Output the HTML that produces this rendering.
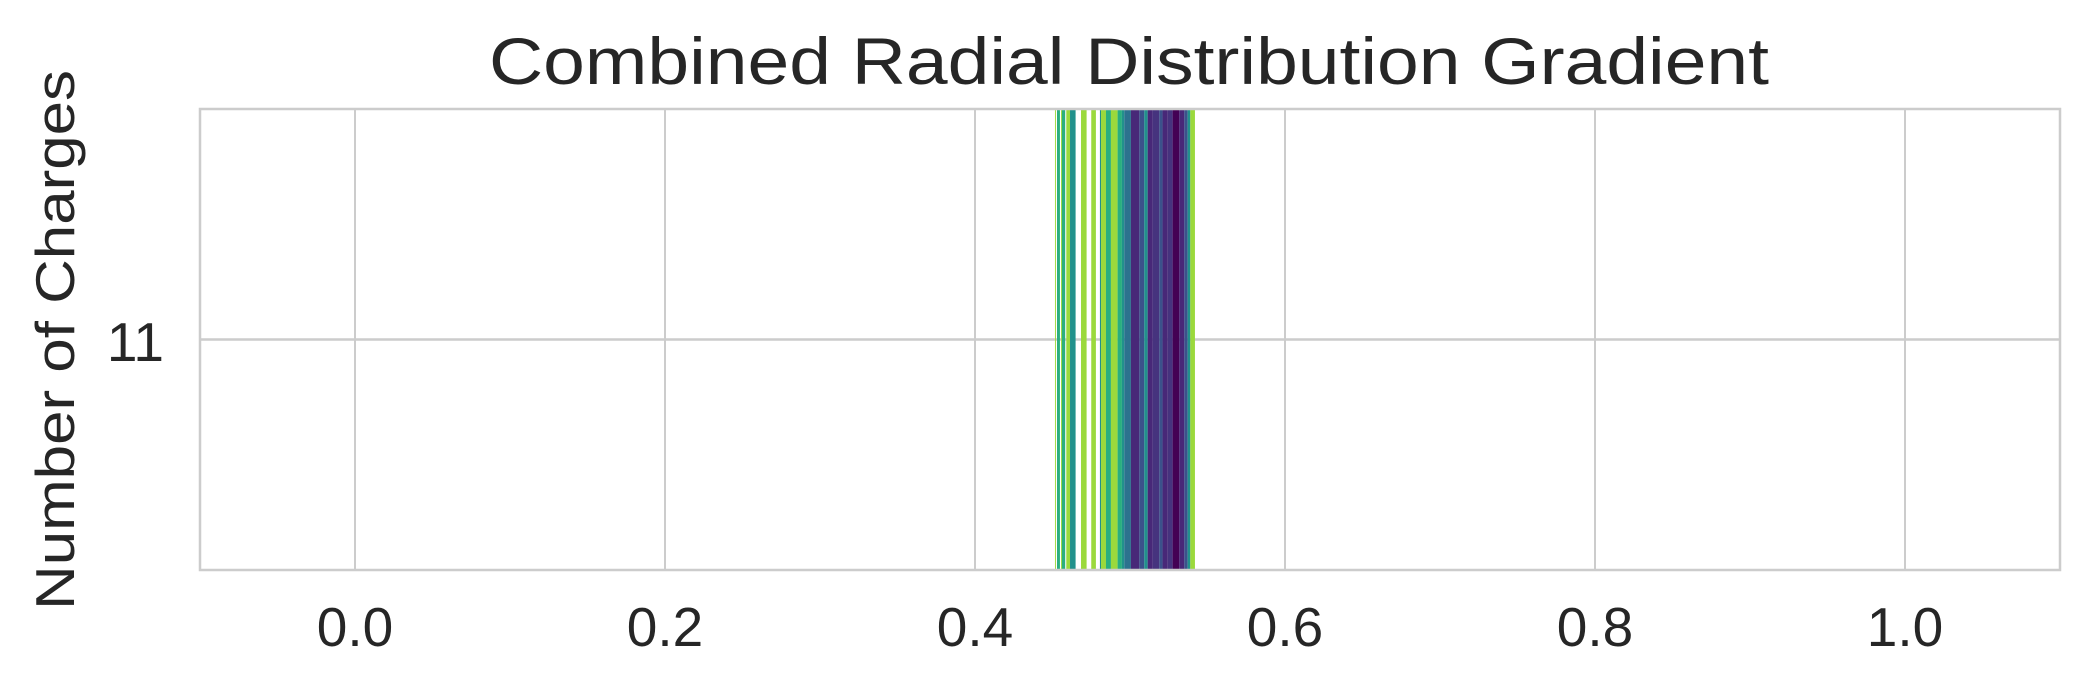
<!DOCTYPE html>
<html><head><meta charset="utf-8"><style>
html,body{margin:0;padding:0;background:#fff;}
svg{display:block;font-family:"Liberation Sans",Arial,sans-serif;}
</style></head><body>
<svg id="chart" width="2088" height="687" viewBox="0 0 2088 687">
<text x="1129" y="84" text-anchor="middle" font-size="66" fill="#262626" textLength="1280" lengthAdjust="spacingAndGlyphs">Combined Radial Distribution Gradient</text>
<g id="grid"></g>
<g id="bars"></g>
<rect x="200" y="109" width="1860" height="461" fill="none" stroke="#cccccc" stroke-width="2.5"/>
<g id="xticks"></g>
<text x="164" y="361" text-anchor="end" font-size="55" fill="#262626">11</text>
<text transform="translate(74,340) rotate(-90)" text-anchor="middle" font-size="55" fill="#262626" textLength="540" lengthAdjust="spacingAndGlyphs">Number of Charges</text>
</svg>
<script>
const xTicks = [0.0, 0.2, 0.4, 0.6, 0.8, 1.0];
const xTickLabels = ["0.0", "0.2", "0.4", "0.6", "0.8", "1.0"];
const binStarts = [0.4516,0.4529,0.4555,0.4561,0.4589,0.4613,0.4684,0.4750,0.4806,0.4813,0.4845,0.4877,0.4920,0.4948,0.4963,0.5006,0.5060,0.5092,0.5114,0.5146,0.5189,0.5210,0.5243,0.5275,0.5318,0.5350,0.5372,0.5389];
const binEnds   = [0.4522,0.4548,0.4561,0.4582,0.4613,0.4649,0.4720,0.4780,0.4813,0.4845,0.4877,0.4920,0.4948,0.4963,0.5006,0.5060,0.5092,0.5114,0.5146,0.5189,0.5210,0.5243,0.5275,0.5318,0.5350,0.5372,0.5389,0.5419];
const binColors = ["#9bd93c","#2aaf7f","#9bd93c","#2aaf7f","#9bd93c","#21918c","#9bd93c","#9bd93c","#21918c","#9bd93c","#2aaf7f","#9bd93c","#2aaf7f","#21918c","#2c728e","#482878","#3b528b","#21918c","#482878","#46337e","#3b528b","#482878","#46337e","#440154","#482878","#3b528b","#21918c","#9bd93c"];
const yTickValue = 11;

const NS = "http://www.w3.org/2000/svg";
const X0 = 200, X1 = 2060, Y0 = 109, Y1 = 570;
const xMin = -0.1, xMax = 1.1;
function xScale(v){ return X0 + (v - xMin) / (xMax - xMin) * (X1 - X0); }
const yMin = 0, yMax = 22;
function yScale(v){ return Y1 - (v - yMin) / (yMax - yMin) * (Y1 - Y0); }

const grid = document.getElementById("grid");
xTicks.forEach((t) => {
  const l = document.createElementNS(NS, "line");
  l.setAttribute("x1", xScale(t)); l.setAttribute("x2", xScale(t));
  l.setAttribute("y1", Y0); l.setAttribute("y2", Y1);
  l.setAttribute("stroke", "#cccccc"); l.setAttribute("stroke-width", "2");
  
  
  grid.appendChild(l);
});
const hl = document.createElementNS(NS, "line");
hl.setAttribute("x1", X0); hl.setAttribute("x2", X1);
hl.setAttribute("y1", yScale(yTickValue)); hl.setAttribute("y2", yScale(yTickValue));
hl.setAttribute("stroke", "#cccccc"); hl.setAttribute("stroke-width", "2.5");


grid.appendChild(hl);

const bars = document.getElementById("bars");
binStarts.forEach((s, i) => {
  const r = document.createElementNS(NS, "rect");
  const xa = xScale(s), xb = xScale(binEnds[i]);
  r.setAttribute("x", xa); r.setAttribute("width", Math.max(0.5, xb - xa));
  r.setAttribute("y", Y0); r.setAttribute("height", Y1 - Y0);
  r.setAttribute("fill", binColors[i]);
  
  
  bars.appendChild(r);
});

const xt = document.getElementById("xticks");
xTicks.forEach((t, i) => {
  const tx = document.createElementNS(NS, "text");
  tx.setAttribute("x", xScale(t)); tx.setAttribute("y", 646);
  tx.setAttribute("text-anchor", "middle"); tx.setAttribute("font-size", "55");
  tx.setAttribute("fill", "#262626");
  tx.textContent = xTickLabels[i];
  
  
  xt.appendChild(tx);
});
</script>
</body></html>
